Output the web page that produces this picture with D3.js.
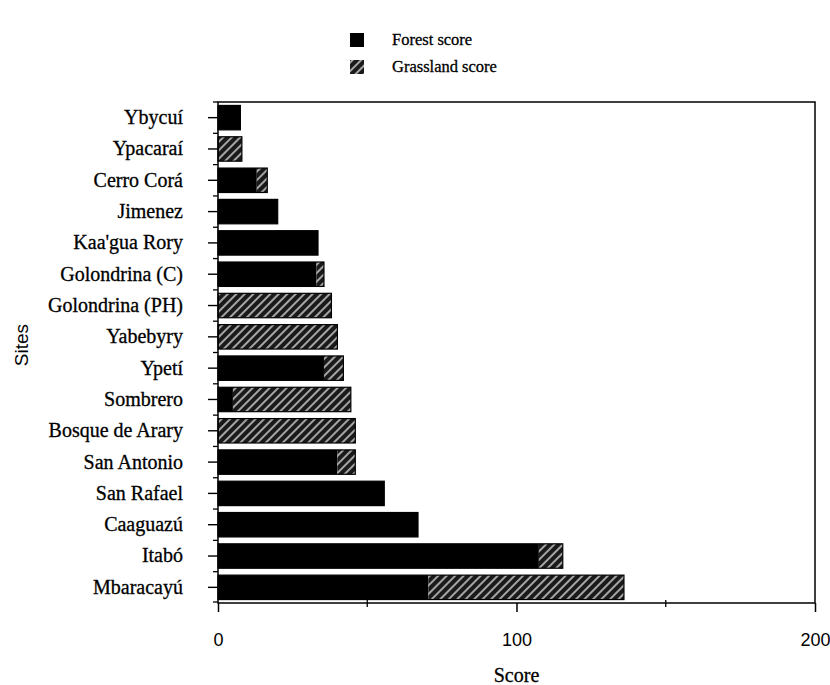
<!DOCTYPE html>
<html>
<head>
<meta charset="utf-8">
<script src="https://cdn.jsdelivr.net/npm/d3@7"></script>
<style>
  body { margin: 0; background: #fff; }
  .serif { font-family: "Liberation Serif", "DejaVu Serif", serif; stroke: #000; stroke-width: 0.3px; }
  .sans { font-family: "Liberation Sans", Arial, sans-serif; }
</style>
</head>
<body>
<svg id="chart"></svg>
<script>
// sites, top to bottom
const sites = ["Ybycuí", "Ypacaraí", "Cerro Corá", "Jimenez", "Kaa'gua Rory", "Golondrina (C)",
  "Golondrina (PH)", "Yabebyry", "Ypetí", "Sombrero", "Bosque de Arary", "San Antonio",
  "San Rafael", "Caaguazú", "Itabó", "Mbaracayú"];
const forest = [7.5, 0, 13, 20, 33.5, 33, 0, 0, 35.5, 5, 0, 40, 55.7, 67, 107.5, 70.5];
const grassland = [0, 8, 3.5, 0, 0, 2.5, 38, 40, 6.5, 39.5, 46, 6, 0, 0, 8, 65.5];
const xTicks = [0, 100, 200];
const xMinor = [50, 150];

const width = 830, height = 685;
const margin = { top: 102, right: 15, bottom: 82, left: 218 };

const svg = d3.select("#chart").attr("width", width).attr("height", height);

const defs = svg.append("defs");
const pat = defs.append("pattern")
  .attr("id", "hatch")
  .attr("patternUnits", "userSpaceOnUse")
  .attr("width", 6).attr("height", 6)
  .attr("patternTransform", "rotate(45)");
pat.append("rect").attr("width", 6).attr("height", 6).attr("fill", "#1a1a1a");
pat.append("line").attr("x1", 3).attr("y1", 0).attr("x2", 3).attr("y2", 6)
  .attr("stroke", "#c8c8c8").attr("stroke-width", 1.6);

const x = d3.scaleLinear().domain([0, 200]).range([margin.left, width - margin.right]);
const y = d3.scaleBand().domain(sites).range([margin.top, height - margin.bottom]).paddingInner(0.22).paddingOuter(0.11);

const rows = sites.map((s, i) => ({ site: s, f: forest[i], g: grassland[i] }));

// bars
const g = svg.append("g");
g.selectAll("rect.forest")
  .data(rows.filter(d => d.f > 0))
  .join("rect")
  .attr("class", "forest")
  .attr("x", x(0))
  .attr("y", d => y(d.site))
  .attr("width", d => x(d.f) - x(0))
  .attr("height", y.bandwidth())
  .attr("fill", "#000");

g.selectAll("rect.grass")
  .data(rows.filter(d => d.g > 0))
  .join("rect")
  .attr("class", "grass")
  .attr("x", d => x(d.f))
  .attr("y", d => y(d.site))
  .attr("width", d => x(d.f + d.g) - x(d.f))
  .attr("height", y.bandwidth())
  .attr("fill", "url(#hatch)");

g.selectAll("rect.outline")
  .data(rows)
  .join("rect")
  .attr("class", "outline")
  .attr("x", x(0))
  .attr("y", d => y(d.site))
  .attr("width", d => x(d.f + d.g) - x(0))
  .attr("height", y.bandwidth())
  .attr("fill", "none")
  .attr("stroke", "#000")
  .attr("stroke-width", 1.2);

// frame: left, bottom, top, right
const x0 = x(0), x1 = x(200), yTop = margin.top, yBot = height - margin.bottom;
svg.append("path")
  .attr("d", `M${x0},${yTop}H${x1}V${yBot}H${x0}Z`)
  .attr("fill", "none").attr("stroke", "#000").attr("stroke-width", 1.5);

// x axis
const xAxis = svg.append("g").attr("transform", `translate(0,${yBot})`)
  .call(d3.axisBottom(x).tickValues(xTicks).tickSize(9).tickFormat(d3.format("d")));
xAxis.select(".domain").remove();
xAxis.selectAll("line").attr("stroke-width", 1.5);
xAxis.selectAll("text").attr("class", "sans").style("font-size", "18px").attr("dy", "1.7em").attr("fill", "#000");

svg.append("g").selectAll("line")
  .data(xMinor).join("line")
  .attr("x1", d => x(d)).attr("x2", d => x(d))
  .attr("y1", yBot - 3).attr("y2", yBot + 4)
  .attr("stroke", "#000").attr("stroke-width", 1.3);

// y axis
const yAxis = svg.append("g").attr("transform", `translate(${x0},0)`)
  .call(d3.axisLeft(y).tickSize(10).tickPadding(25));
yAxis.select(".domain").remove();
yAxis.selectAll("line").attr("stroke-width", 1.4);
yAxis.selectAll("text").attr("class", "serif").style("font-size", "20px").attr("fill", "#000");

const bounds = sites.map(s => y(s) - y.step() * y.paddingInner() / 2);
bounds.push(yBot - 1);
svg.append("g").selectAll("line")
  .data(bounds).join("line")
  .attr("x1", x0 - 5).attr("x2", x0)
  .attr("y1", d => d).attr("y2", d => d)
  .attr("stroke", "#000").attr("stroke-width", 1.3);

// axis titles
svg.append("text").attr("class", "serif")
  .attr("x", x(100)).attr("y", 682)
  .attr("text-anchor", "middle").style("font-size", "20px")
  .text("Score");

svg.append("text").attr("class", "sans")
  .attr("transform", `translate(28,345) rotate(-90)`)
  .attr("text-anchor", "middle").style("font-size", "19px")
  .text("Sites");

// legend
const legend = svg.append("g").attr("transform", "translate(350,33)");
const legendItems = [{ label: "Forest score", fill: "#000" }, { label: "Grassland score", fill: "url(#hatch)" }];
legend.selectAll("rect").data(legendItems).join("rect")
  .attr("x", 0).attr("y", (d, i) => i * 27)
  .attr("width", 14).attr("height", 14)
  .attr("fill", d => d.fill);
legend.selectAll("text").data(legendItems).join("text")
  .attr("class", "serif")
  .attr("x", 42).attr("y", (d, i) => i * 27 + 12)
  .style("font-size", "16.5px")
  .text(d => d.label);
</script>
</body>
</html>
